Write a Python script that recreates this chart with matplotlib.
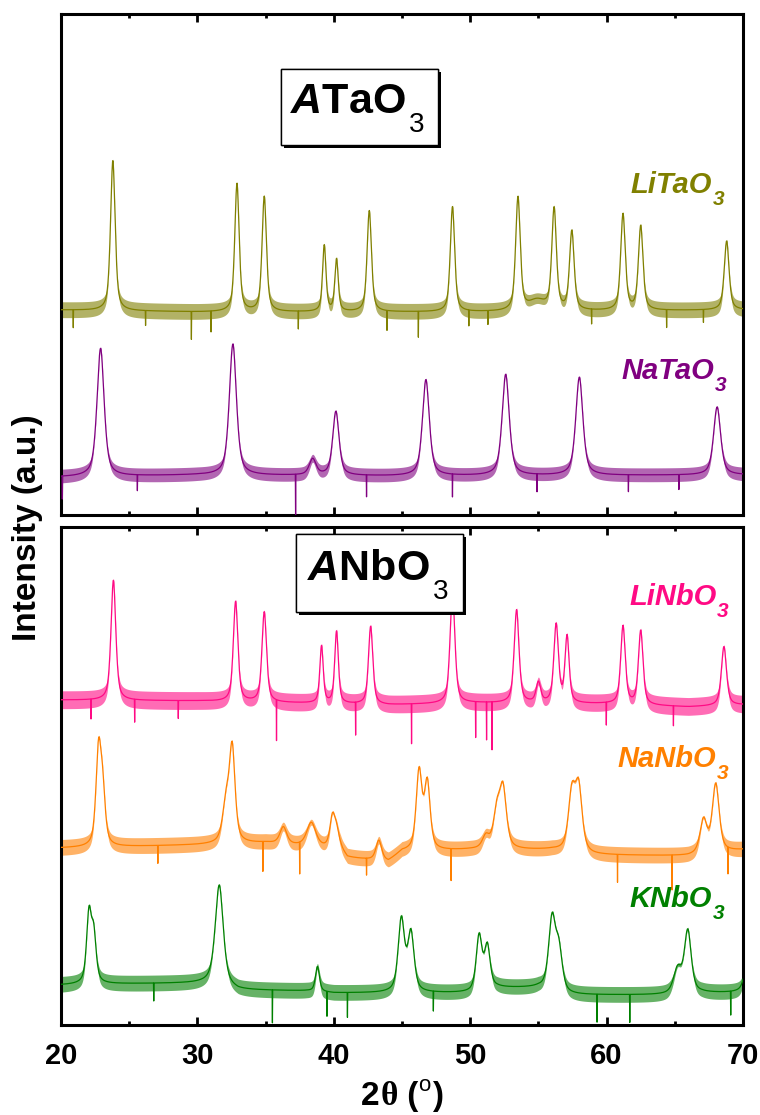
import numpy as np
import matplotlib
matplotlib.use("Agg")
import matplotlib.pyplot as plt
import matplotlib.transforms as mtransforms
from matplotlib import patheffects as pe
from matplotlib.patches import Rectangle
from matplotlib.ticker import MultipleLocator

plt.rcParams['font.family'] = ['Liberation Sans', 'DejaVu Sans']
plt.rcParams['mathtext.fontset'] = 'custom'
plt.rcParams['mathtext.rm'] = 'Liberation Sans'
plt.rcParams['mathtext.it'] = 'Liberation Sans:italic:bold'
plt.rcParams['mathtext.bf'] = 'Liberation Sans:bold'

# ---------------- data (arbitrary intensity units) ----------------
x_min, x_max = 20, 70
x_ticks = [20, 30, 40, 50, 60, 70]

# LiTaO3 (top panel)
litao3_base_pos = [20, 30, 50, 70]
litao3_base_val = [205, 203, 203, 205]
litao3_peak_pos = [23.8, 32.9, 34.9, 39.3, 40.2, 42.6, 48.7, 53.5, 54.9, 56.15, 57.45, 61.2, 62.5, 68.8]
litao3_peak_hgt = [150, 128, 115, 66, 52, 101, 105, 113, 10, 101, 79, 96, 84, 69]
litao3_peak_wid = [0.40, 0.38, 0.38, 0.30, 0.30, 0.38, 0.38, 0.40, 1.5, 0.40, 0.40, 0.40, 0.40, 0.42]
litao3_spike_pos = [20.9, 26.2, 29.55, 31.0, 37.4, 43.9, 46.2, 49.9, 51.3, 58.9, 64.4, 67.1]
litao3_spike_val = [-18, -15, -28, -21, -18, -20, -26, -16, -14, -15, -18, -13]

# NaTaO3 (top panel)
natao3_base_pos = [20, 30, 44, 70]
natao3_base_val = [38, 40, 39, 40]
natao3_peak_pos = [22.9, 32.6, 38.45, 40.15, 46.75, 52.6, 58.0, 68.1]
natao3_peak_hgt = [128, 131, 16, 64, 96, 101, 98, 68]
natao3_peak_wid = [0.62, 0.62, 0.6, 0.55, 0.6, 0.62, 0.62, 0.62]
natao3_spike_pos = [20.1, 25.6, 37.2, 42.4, 48.7, 54.9, 61.6, 65.3]
natao3_spike_val = [-23, -16, -45, -22, -23, -18, -17, -15]

# LiNbO3 (bottom panel)
linbo3_base_pos = [20, 30, 44, 50, 60, 66, 70]
linbo3_base_val = [325, 324, 320, 322, 321, 318, 320]
linbo3_peak_pos = [23.84, 32.8, 34.9, 39.1, 40.2, 42.7, 48.7, 53.4, 55.0, 56.3, 57.1, 61.2, 62.5, 68.6]
linbo3_peak_hgt = [120, 100, 90, 57, 72, 78, 112, 93, 20, 78, 66, 78, 74, 59]
linbo3_peak_wid = [0.42, 0.40, 0.40, 0.30, 0.32, 0.38, 0.42, 0.42, 0.4, 0.40, 0.36, 0.40, 0.40, 0.45]
linbo3_spike_pos = [22.2, 25.4, 28.6, 35.8, 41.6, 45.7, 50.4, 51.2, 51.6, 59.97, 64.9]
linbo3_spike_val = [-20, -23, -18, -41, -33, -40, -36, -38, -48, -23, -20]

# NaNbO3 (bottom panel)
nanbo3_base_pos = [20, 30, 35, 40.5, 41, 44, 45, 50, 56, 59, 66, 70]
nanbo3_base_val = [177, 180, 182, 175, 167, 163, 173, 175, 175, 170, 169, 175]
nanbo3_peak_pos = [22.75, 23.05, 32.1, 32.55, 36.3, 38.35, 39.9, 40.2, 43.3, 46.25, 46.85,
                   51.15, 51.95, 52.4, 57.45, 57.95, 67.1, 68.0]
nanbo3_peak_hgt = [92, 50, 38, 92, 17, 24, 30, 16, 20, 78, 66, 12, 34, 58, 56, 62, 33, 68]
nanbo3_peak_wid = [0.45, 0.45, 0.6, 0.5, 0.6, 0.8, 0.45, 0.45, 0.5, 0.5, 0.5,
                   0.6, 0.6, 0.6, 0.6, 0.6, 0.6, 0.6]
nanbo3_spike_pos = [27.1, 34.8, 37.5, 42.4, 48.6, 60.8, 64.8, 68.9]
nanbo3_spike_val = [-18, -30, -32, -17, -32, -28, -35, -27]

# KNbO3 (bottom panel)
knbo3_base_pos = [20, 22.5, 31, 33, 38, 40, 50, 52, 55, 57, 65, 67, 70]
knbo3_base_val = [40, 41, 42, 35, 34, 32, 32, 37, 37, 30, 30, 32, 32]
knbo3_peak_pos = [22.05, 22.4, 31.6, 38.8, 44.95, 45.65, 50.65, 51.25, 56.0, 56.5, 65.2, 65.95, 70.45]
knbo3_peak_hgt = [68, 46, 100, 25, 72, 58, 54, 42, 70, 40, 24, 62, 50]
knbo3_peak_wid = [0.42, 0.42, 0.7, 0.35, 0.55, 0.55, 0.5, 0.5, 0.6, 0.6, 0.7, 0.6, 0.6]
knbo3_spike_pos = [26.8, 35.5, 39.5, 41.0, 47.3, 59.3, 61.7, 69.1]
knbo3_spike_val = [-18, -33, -25, -25, -20, -28, -28, -24]

# ---------------- helpers ----------------
x = np.arange(x_min, x_max + 1e-9, 0.02)


def pattern(base_pos, base_val, pos, hgt, wid, spike_pos, spike_val):
    base = np.interp(x, base_pos, base_val)
    y = base.copy()
    for p, h, w in zip(pos, hgt, wid):
        lor = 1.0 / (1.0 + ((x - p) / (w / 2)) ** 2)
        gau = np.exp(-4 * np.log(2) * ((x - p) / w) ** 2)
        y += h * (0.6 * lor + 0.4 * gau)
    y_sp = y.copy()
    for p, d in zip(spike_pos, spike_val):
        i = int(np.argmin(np.abs(x - p)))
        y_sp[i] += d
    return base, y, y_sp


def draw(ax, color, noise, *args):
    base, y, y_sp = pattern(*args)
    sig = y - base
    a = noise * np.clip(1 - sig / 40.0, 0.2, 1.0)
    ax.fill_between(x, y - a, y + a, color=color, alpha=0.6, lw=0, zorder=2)
    ax.plot(x, y_sp, color=color, lw=0.9, zorder=3)


fig = plt.figure(figsize=(7.6, 11.15), dpi=100)
ax_top = fig.add_axes([61 / 760, 1 - 515 / 1115, 682 / 760, 501 / 1115])
ax_bot = fig.add_axes([61 / 760, 1 - 1025 / 1115, 682 / 760, 498 / 1115])

draw(ax_top, '#808000', 8, litao3_base_pos, litao3_base_val, litao3_peak_pos, litao3_peak_hgt,
     litao3_peak_wid, litao3_spike_pos, litao3_spike_val)
draw(ax_top, '#800080', 7, natao3_base_pos, natao3_base_val, natao3_peak_pos, natao3_peak_hgt,
     natao3_peak_wid, natao3_spike_pos, natao3_spike_val)
draw(ax_bot, '#ff0a84', 9, linbo3_base_pos, linbo3_base_val, linbo3_peak_pos, linbo3_peak_hgt,
     linbo3_peak_wid, linbo3_spike_pos, linbo3_spike_val)
draw(ax_bot, '#ff8000', 8, nanbo3_base_pos, nanbo3_base_val, nanbo3_peak_pos, nanbo3_peak_hgt,
     nanbo3_peak_wid, nanbo3_spike_pos, nanbo3_spike_val)
draw(ax_bot, '#008000', 8, knbo3_base_pos, knbo3_base_val, knbo3_peak_pos, knbo3_peak_hgt,
     knbo3_peak_wid, knbo3_spike_pos, knbo3_spike_val)

ax_top.set_ylim(0, 501)
ax_bot.set_ylim(0, 498)

for ax in (ax_top, ax_bot):
    ax.set_xlim(x_min, x_max)
    ax.xaxis.set_major_locator(MultipleLocator(10))
    ax.xaxis.set_minor_locator(MultipleLocator(5))
    ax.tick_params(axis='x', which='both', direction='in', top=True, bottom=True, width=2.0)
    ax.tick_params(axis='x', which='major', length=6)
    ax.tick_params(axis='x', which='minor', length=3)
    ax.set_yticks([])
    for s in ax.spines.values():
        s.set_linewidth(2.2)

ax_top.tick_params(axis='x', labelbottom=False)
ax_bot.set_xticks(x_ticks)
ax_bot.set_xticklabels([str(t) for t in x_ticks], fontsize=21, fontweight='bold')
ax_bot.tick_params(axis='x', which='major', pad=12)

fig.text(28 / 760, 1 - 528 / 1115, 'Intensity (a.u.)', rotation=90, fontsize=24,
         fontweight='bold', ha='center', va='center')

renderer = fig.canvas.get_renderer()


def text_chain(transform, x0, y0, pieces, center=False):
    """pieces: (string, fontsize, dx_px, dy_px, kwargs) placed one after another."""
    widths = []
    for s, fs, dx, dy, kw in pieces:
        t = fig.text(0, 0, s, fontsize=fs, **kw)
        widths.append(t.get_window_extent(renderer=renderer).width)
        t.remove()
    total = sum(w + p[2] for w, p in zip(widths, pieces))
    off = -total / 2 if center else 0.0
    for (s, fs, dx, dy, kw), w in zip(pieces, widths):
        off += dx
        tr = mtransforms.offset_copy(transform, fig=fig, x=off, y=dy, units='dots')
        fig.text(x0, y0, s, fontsize=fs, transform=tr, ha='left', va='baseline', zorder=9, **kw)
        off += w


def label_with_sub(ax, x_ax, y_ax, main, sub, size, subsize, color, gap_px, drop_px,
                   main_kw, sub_kw):
    t = ax.text(x_ax, y_ax, main, transform=ax.transAxes, fontsize=size, color=color,
                ha='left', va='baseline', zorder=9, **main_kw)
    w = t.get_window_extent(renderer=renderer).width
    tr = mtransforms.offset_copy(ax.transAxes, fig=fig, x=w + gap_px, y=-drop_px, units='dots')
    ax.text(x_ax, y_ax, sub, transform=tr, fontsize=subsize, color=color,
            ha='left', va='baseline', zorder=9, **sub_kw)


# x-axis title "2θ (°)" with a serif theta and raised o
bold = dict(fontweight='bold')
text_chain(fig.transFigure, 402 / 760, 1 - 1105 / 1115, [
    ('2', 24, 0, 0, bold),
    ('θ', 24, 1, 0, dict(family=['Liberation Serif', 'DejaVu Serif'], fontweight='bold')),
    (' (', 24, 0, 0, bold),
    ('o', 16, 0, 14, {}),
    (')', 24, 1, 0, bold),
], center=True)

# framed panel titles with shadow
boxes = [
    (ax_top, (0.3226, 0.7385, 0.2302, 0.1517), (0.3358, 0.8024), r'$\mathit{A}\mathbf{TaO}$'),
    (ax_bot, (0.3446, 0.8293, 0.2448, 0.1566), (0.3607, 0.8936), r'$\mathit{A}\mathbf{NbO}$'),
]
for ax, (bx, by, bw, bh), (tx, ty), txt in boxes:
    rect = Rectangle((bx, by), bw, bh, transform=ax.transAxes, fc='white', ec='black',
                     lw=1.0, zorder=7)
    rect.set_path_effects([pe.withSimplePatchShadow(offset=(2.4, -2.4), shadow_rgbFace='black',
                                                    alpha=1.0), pe.Normal()])
    ax.add_patch(rect)
    label_with_sub(ax, tx, ty, txt, '3', 31, 20, 'black', 3, 19, {}, {})

# sample labels (left x in px, baseline y in px)
sample_labels = [
    (ax_top, 630, 193, 'LiTaO', '#808000'),
    (ax_top, 621, 379, 'NaTaO', '#800080'),
    (ax_bot, 629, 605, 'LiNbO', '#ff0a84'),
    (ax_bot, 617, 767, 'NaNbO', '#ff8000'),
    (ax_bot, 629, 907, 'KNbO', '#008000'),
]
for ax, px, py, txt, c in sample_labels:
    top_px = 14 if ax is ax_top else 527
    bot_px = 515 if ax is ax_top else 1025
    xa = (px - 61) / 682
    ya = (bot_px - py) / (bot_px - top_px)
    label_with_sub(ax, xa, ya, txt, '3', 21, 15, c, 1, 12,
                   dict(fontweight='bold', fontstyle='italic'),
                   dict(fontweight='bold', fontstyle='italic'))

fig.savefig('out.png', dpi=100)
